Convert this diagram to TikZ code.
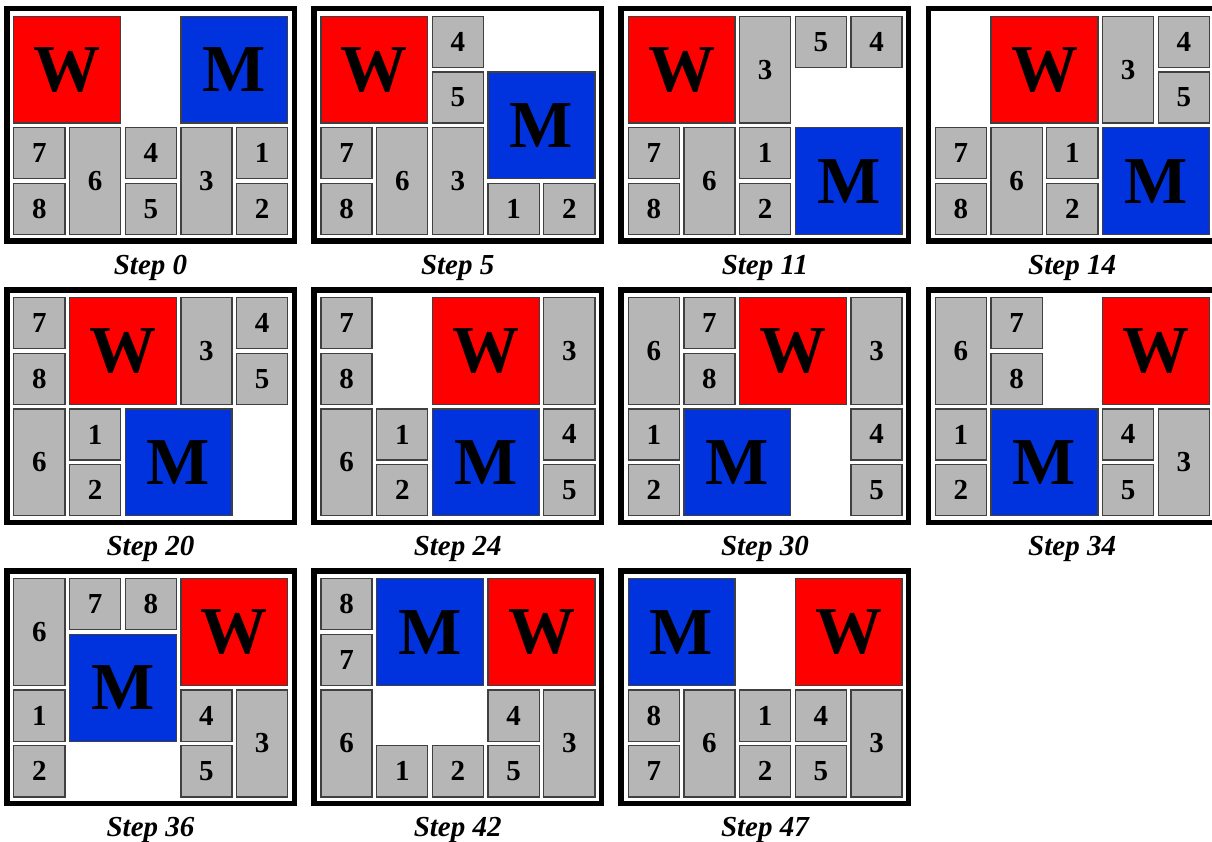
\documentclass[tikz,border=0pt]{standalone}
\usepackage{fontspec}
\setmainfont{Liberation Serif}
\definecolor{mblue}{RGB}{0,51,221}
\definecolor{tilegray}{RGB}{182,182,182}
\tikzset{
  tile/.style={draw=black!75, line width=1.3pt, fill=tilegray, inner sep=0pt,
    font=\bfseries\fontsize{29}{29}\selectfont},
  wpiece/.style={tile, fill=red, font=\bfseries\fontsize{67}{67}\selectfont},
  mpiece/.style={tile, fill=mblue, font=\bfseries\fontsize{67}{67}\selectfont},
  frame/.style={line width=5.5pt},
  steplabel/.style={font=\bfseries\itshape\fontsize{29}{29}\selectfont}
}
% #1,#2 panel column/row, #3 step, #4 name, #5 pieces (col/row/w/h/label/style)
\newcommand{\boardpanel}[5]{%
  \begin{scope}[shift={(4+307.2*#1,6+281.2*#2)}]
    \draw[frame] (2.75,2.75) rectangle (290.25,235.25);
    \foreach \pc/\pr/\pw/\ph/\pl/\ps in {#5} {
      \node[\ps, minimum width={55.7*\pw-4.6}, minimum height={55.7*\ph-4.6}]
        (#4-\pl) at ({7.5+55.7*(\pc+\pw/2)},{8+55.7*(\pr+\ph/2)}) {\pl};
    }
    \node[steplabel] (#4-lbl) at (146.5,262) {Step #3};
  \end{scope}
}
\begin{document}
\begin{tikzpicture}[x=1pt,y=-1pt]
  \useasboundingbox (0,0) rectangle (1212,842);
  \clip (0,0) rectangle (1212,842);
  % first row
  \boardpanel{0}{0}{0}{s0}{0/0/2/2/W/wpiece, 3/0/2/2/M/mpiece, 0/2/1/1/7/tile,
    0/3/1/1/8/tile, 1/2/1/2/6/tile, 2/2/1/1/4/tile, 2/3/1/1/5/tile,
    3/2/1/2/3/tile, 4/2/1/1/1/tile, 4/3/1/1/2/tile}
  \boardpanel{1}{0}{5}{s5}{0/0/2/2/W/wpiece, 2/0/1/1/4/tile, 2/1/1/1/5/tile,
    3/1/2/2/M/mpiece, 0/2/1/1/7/tile, 0/3/1/1/8/tile, 1/2/1/2/6/tile,
    2/2/1/2/3/tile, 3/3/1/1/1/tile, 4/3/1/1/2/tile}
  \boardpanel{2}{0}{11}{s11}{0/0/2/2/W/wpiece, 2/0/1/2/3/tile, 3/0/1/1/5/tile,
    4/0/1/1/4/tile, 0/2/1/1/7/tile, 0/3/1/1/8/tile, 1/2/1/2/6/tile,
    2/2/1/1/1/tile, 2/3/1/1/2/tile, 3/2/2/2/M/mpiece}
  \boardpanel{3}{0}{14}{s14}{1/0/2/2/W/wpiece, 3/0/1/2/3/tile, 4/0/1/1/4/tile,
    4/1/1/1/5/tile, 0/2/1/1/7/tile, 0/3/1/1/8/tile, 1/2/1/2/6/tile,
    2/2/1/1/1/tile, 2/3/1/1/2/tile, 3/2/2/2/M/mpiece}
  % second row
  \boardpanel{0}{1}{20}{s20}{0/0/1/1/7/tile, 0/1/1/1/8/tile, 1/0/2/2/W/wpiece,
    3/0/1/2/3/tile, 4/0/1/1/4/tile, 4/1/1/1/5/tile, 0/2/1/2/6/tile,
    1/2/1/1/1/tile, 1/3/1/1/2/tile, 2/2/2/2/M/mpiece}
  \boardpanel{1}{1}{24}{s24}{0/0/1/1/7/tile, 0/1/1/1/8/tile, 2/0/2/2/W/wpiece,
    4/0/1/2/3/tile, 0/2/1/2/6/tile, 1/2/1/1/1/tile, 1/3/1/1/2/tile,
    2/2/2/2/M/mpiece, 4/2/1/1/4/tile, 4/3/1/1/5/tile}
  \boardpanel{2}{1}{30}{s30}{0/0/1/2/6/tile, 1/0/1/1/7/tile, 1/1/1/1/8/tile,
    2/0/2/2/W/wpiece, 4/0/1/2/3/tile, 0/2/1/1/1/tile, 0/3/1/1/2/tile,
    1/2/2/2/M/mpiece, 4/2/1/1/4/tile, 4/3/1/1/5/tile}
  \boardpanel{3}{1}{34}{s34}{0/0/1/2/6/tile, 1/0/1/1/7/tile, 1/1/1/1/8/tile,
    3/0/2/2/W/wpiece, 0/2/1/1/1/tile, 0/3/1/1/2/tile, 1/2/2/2/M/mpiece,
    3/2/1/1/4/tile, 3/3/1/1/5/tile, 4/2/1/2/3/tile}
  % third row
  \boardpanel{0}{2}{36}{s36}{0/0/1/2/6/tile, 1/0/1/1/7/tile, 2/0/1/1/8/tile,
    3/0/2/2/W/wpiece, 1/1/2/2/M/mpiece, 0/2/1/1/1/tile, 0/3/1/1/2/tile,
    3/2/1/1/4/tile, 3/3/1/1/5/tile, 4/2/1/2/3/tile}
  \boardpanel{1}{2}{42}{s42}{0/0/1/1/8/tile, 0/1/1/1/7/tile, 1/0/2/2/M/mpiece,
    3/0/2/2/W/wpiece, 0/2/1/2/6/tile, 3/2/1/1/4/tile, 4/2/1/2/3/tile,
    1/3/1/1/1/tile, 2/3/1/1/2/tile, 3/3/1/1/5/tile}
  \boardpanel{2}{2}{47}{s47}{0/0/2/2/M/mpiece, 3/0/2/2/W/wpiece, 0/2/1/1/8/tile,
    0/3/1/1/7/tile, 1/2/1/2/6/tile, 2/2/1/1/1/tile, 2/3/1/1/2/tile,
    3/2/1/1/4/tile, 3/3/1/1/5/tile, 4/2/1/2/3/tile}
\end{tikzpicture}
\end{document}
